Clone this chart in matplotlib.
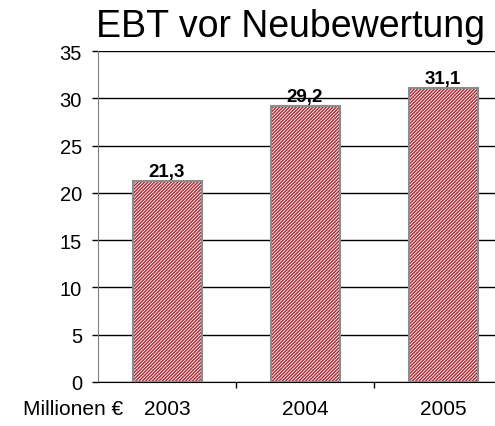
import numpy as np
from matplotlib import pyplot as plt

# Daten
years = ['2003', '2004', '2005']
ebt = [21.3, 29.2, 31.1]
value_labels = ['21,3', '29,2', '31,1']

plt.rcParams['font.family'] = ['Liberation Sans', 'DejaVu Sans']
plt.rcParams['hatch.linewidth'] = 1.1
plt.rcParams['hatch.color'] = '#b0303a'

fig = plt.figure(figsize=(4.95, 4.27), dpi=100)
ax = fig.add_axes([98 / 495, 1 - 383 / 427, (512 - 98) / 495, (383 - 52) / 427])

x = np.arange(len(years))
# Schraffur (rot) und Rahmen (grau) getrennt zeichnen
ax.bar(x, ebt, width=0.5, color='white', hatch='/' * 10, edgecolor='#b0303a',
       linewidth=0, zorder=3)
ax.bar(x, ebt, width=0.5, fill=False, edgecolor='#8c8c8c', linewidth=1.5, zorder=4)

for xi, v, lab in zip(x, ebt, value_labels):
    ax.text(xi, v + 0.1, lab, ha='center', va='bottom', fontsize=13.5,
            fontweight='bold', zorder=5)

ax.set_xlim(-0.5, 2.5)
ax.set_ylim(0, 35)
ax.set_yticks(np.arange(0, 36, 5))
ax.tick_params(axis='y', labelsize=14.5, length=4.5, width=1, color='black', pad=7)
ax.yaxis.grid(True, color='black', linewidth=1)
ax.set_axisbelow(True)

# x-Ticks an den Kategoriegrenzen, Beschriftung in der Mitte
ax.set_xticks([0.5, 1.5])
ax.set_xticklabels([])
ax.set_xticks(x, minor=True)
ax.set_xticklabels(years, minor=True)
ax.tick_params(axis='x', which='major', length=4.5, width=1, color='black')
ax.tick_params(axis='x', which='minor', length=0, labelsize=15, pad=12)

for s in ['top', 'right']:
    ax.spines[s].set_visible(False)
ax.spines['left'].set_color('#808080')
ax.spines['bottom'].set_color('black')

fig.text(23 / 495, 1 - 410 / 427, 'Millionen €', fontsize=15, va='center', ha='left')
fig.text(291 / 495, 1 - 27 / 427, 'EBT vor Neubewertung', fontsize=27,
         ha='center', va='center')

fig.savefig('out.png', dpi=100)
